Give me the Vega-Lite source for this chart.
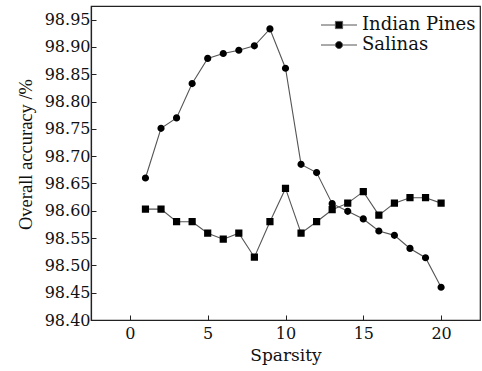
{
  "$schema": "https://vega.github.io/schema/vega-lite/v6.json",
  "width": 389,
  "height": 314,
  "autosize": {"type": "none"},
  "padding": {"left": 91, "top": 6, "right": 2, "bottom": 51},
  "background": "white",
  "config": {
    "font": "DejaVu Serif",
    "view": {"stroke": "#222", "strokeWidth": 1.2},
    "axis": {
      "domainColor": "#222",
      "domainWidth": 1.2,
      "tickColor": "#222",
      "tickSize": -5,
      "grid": false,
      "labelFont": "DejaVu Serif",
      "labelFontSize": 16,
      "labelColor": "#111",
      "titleFont": "DejaVu Serif",
      "titleFontWeight": "normal",
      "titleColor": "#111"
    }
  },
  "data": {
    "values": [
      {"sparsity": 1, "series": "Indian Pines", "oa": 98.603},
      {"sparsity": 2, "series": "Indian Pines", "oa": 98.603},
      {"sparsity": 3, "series": "Indian Pines", "oa": 98.580},
      {"sparsity": 4, "series": "Indian Pines", "oa": 98.580},
      {"sparsity": 5, "series": "Indian Pines", "oa": 98.559},
      {"sparsity": 6, "series": "Indian Pines", "oa": 98.548},
      {"sparsity": 7, "series": "Indian Pines", "oa": 98.559},
      {"sparsity": 8, "series": "Indian Pines", "oa": 98.515},
      {"sparsity": 9, "series": "Indian Pines", "oa": 98.580},
      {"sparsity": 10, "series": "Indian Pines", "oa": 98.641},
      {"sparsity": 11, "series": "Indian Pines", "oa": 98.559},
      {"sparsity": 12, "series": "Indian Pines", "oa": 98.580},
      {"sparsity": 13, "series": "Indian Pines", "oa": 98.602},
      {"sparsity": 14, "series": "Indian Pines", "oa": 98.614},
      {"sparsity": 15, "series": "Indian Pines", "oa": 98.635},
      {"sparsity": 16, "series": "Indian Pines", "oa": 98.592},
      {"sparsity": 17, "series": "Indian Pines", "oa": 98.614},
      {"sparsity": 18, "series": "Indian Pines", "oa": 98.624},
      {"sparsity": 19, "series": "Indian Pines", "oa": 98.624},
      {"sparsity": 20, "series": "Indian Pines", "oa": 98.614},
      {"sparsity": 1, "series": "Salinas", "oa": 98.660},
      {"sparsity": 2, "series": "Salinas", "oa": 98.751},
      {"sparsity": 3, "series": "Salinas", "oa": 98.770},
      {"sparsity": 4, "series": "Salinas", "oa": 98.833},
      {"sparsity": 5, "series": "Salinas", "oa": 98.879},
      {"sparsity": 6, "series": "Salinas", "oa": 98.888},
      {"sparsity": 7, "series": "Salinas", "oa": 98.894},
      {"sparsity": 8, "series": "Salinas", "oa": 98.902},
      {"sparsity": 9, "series": "Salinas", "oa": 98.933},
      {"sparsity": 10, "series": "Salinas", "oa": 98.861},
      {"sparsity": 11, "series": "Salinas", "oa": 98.685},
      {"sparsity": 12, "series": "Salinas", "oa": 98.670},
      {"sparsity": 13, "series": "Salinas", "oa": 98.613},
      {"sparsity": 14, "series": "Salinas", "oa": 98.599},
      {"sparsity": 15, "series": "Salinas", "oa": 98.585},
      {"sparsity": 16, "series": "Salinas", "oa": 98.563},
      {"sparsity": 17, "series": "Salinas", "oa": 98.555},
      {"sparsity": 18, "series": "Salinas", "oa": 98.531},
      {"sparsity": 19, "series": "Salinas", "oa": 98.514},
      {"sparsity": 20, "series": "Salinas", "oa": 98.460}
    ]
  },
  "encoding": {
    "x": {
      "field": "sparsity",
      "type": "quantitative",
      "scale": {"domain": [-2.5, 22.5], "nice": false, "zero": false},
      "axis": {"values": [0, 5, 10, 15, 20], "title": "Sparsity", "titleFontSize": 17, "labelPadding": 10, "titlePadding": 6}
    },
    "y": {
      "field": "oa",
      "type": "quantitative",
      "scale": {"domain": [98.4, 98.975], "nice": false, "zero": false},
      "axis": {
        "values": [98.4, 98.45, 98.5, 98.55, 98.6, 98.65, 98.7, 98.75, 98.8, 98.85, 98.9, 98.95],
        "format": ".2f",
        "title": "Overall accuracy /%",
        "titleFont": "Liberation Serif",
        "titleFontSize": 18.5,
        "titleY": 148,
        "labelPadding": 6,
        "titlePadding": 9
      }
    }
  },
  "layer": [
    {
      "mark": {"type": "line", "color": "#555", "strokeWidth": 1.1},
      "encoding": {"detail": {"field": "series"}}
    },
    {
      "mark": {"type": "point", "filled": true, "fill": "black", "stroke": "#555", "strokeWidth": 0, "opacity": 1, "size": 64},
      "encoding": {
        "shape": {
          "field": "series",
          "type": "nominal",
          "scale": {
            "domain": ["Indian Pines", "Salinas"],
            "range": [
              "M-4.5,0H-0.9M0.9,0H4.5M-0.9,-0.9H0.9V0.9H-0.9Z",
              "M-4.5,0H-0.9M0.9,0H4.5M0.9,0A0.9,0.9,0,1,1,-0.9,0A0.9,0.9,0,1,1,0.9,0Z"
            ]
          },
          "legend": {
            "title": null,
            "orient": "none",
            "legendX": 239,
            "legendY": 10,
            "padding": 0,
            "symbolSize": 64,
            "symbolStrokeWidth": 1,
            "labelFontSize": 18,
            "labelFont": "DejaVu Serif",
            "labelColor": "#111",
            "labelOffset": 14,
            "rowPadding": 2
          }
        }
      }
    }
  ]
}
